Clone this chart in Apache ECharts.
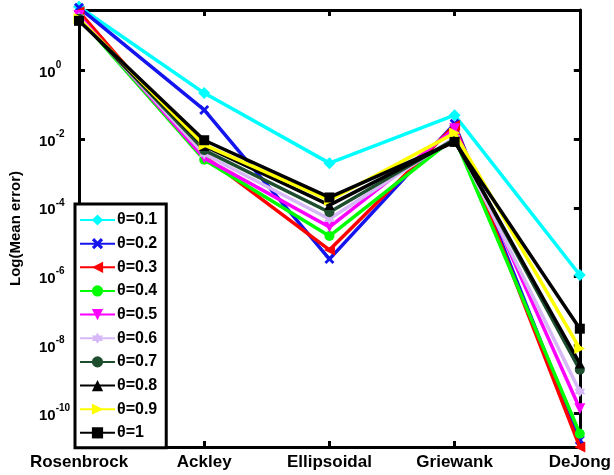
<!DOCTYPE html>
<html>
<head>
<meta charset="utf-8">
<script src="https://cdn.jsdelivr.net/npm/echarts@6/dist/echarts.min.js"></script>
<style>
html,body{margin:0;padding:0;background:#fff;}
#c{width:614px;height:475px;}
</style>
</head>
<body>
<div id="c"></div>
<script>
// ---- data ----
var categories = ['Rosenbrock', 'Ackley', 'Ellipsoidal', 'Griewank', 'DeJong'];
var seriesNames = ['θ=0.1', 'θ=0.2', 'θ=0.3', 'θ=0.4', 'θ=0.5', 'θ=0.6', 'θ=0.7', 'θ=0.8', 'θ=0.9', 'θ=1'];
var theta01 = [72, 0.22, 2.0e-3, 0.050, 1.1e-6];
var theta02 = [68, 0.071, 3.2e-6, 0.028, 1.7e-11];
var theta03 = [52, 3.2e-3, 5.9e-6, 0.025, 1.07e-11];
var theta04 = [35, 2.5e-3, 1.5e-5, 0.011, 2.6e-11];
var theta05 = [40, 2.8e-3, 2.75e-5, 0.020, 1.4e-10];
var theta06 = [35, 3.7e-3, 4.7e-5, 0.011, 4.4e-10];
var theta07 = [32, 4.8e-3, 7.4e-5, 0.010, 1.9e-9];
var theta08 = [30, 6.3e-3, 1.2e-4, 0.0089, 2.9e-9];
var theta09 = [33, 6.8e-3, 1.66e-4, 0.015, 7.9e-9];
var theta10 = [28, 9.3e-3, 2.0e-4, 0.0083, 3.0e-8];
var yTickValues = [1e-10, 1e-8, 1e-6, 1e-4, 1e-2, 1];
var yTickExponents = ['-10', '-8', '-6', '-4', '-2', '0'];

var seriesData = [theta01, theta02, theta03, theta04, theta05, theta06, theta07, theta08, theta09, theta10];
var colors = ['#00FFFF', '#1414EE', '#FF0000', '#00FF00', '#FF00FF', '#D6B8F6', '#1F4E2E', '#000000', '#FFFF00', '#000000'];

// symbol shapes
function hexagramPath() {
  var pts = [];
  for (var i = 0; i < 12; i++) {
    var a = Math.PI / 2 + i * Math.PI / 6;
    var r = (i % 2 === 0) ? 10 : 5.8;
    pts.push((10 + r * Math.cos(a)).toFixed(2) + ',' + (10 - r * Math.sin(a)).toFixed(2));
  }
  return 'path://M' + pts.join(' L') + ' Z';
}
var xPath = 'path://M2,0 L5,3 L8,0 L10,2 L7,5 L10,8 L8,10 L5,7 L2,10 L0,8 L3,5 L0,2 Z';
var symbols = ['diamond', xPath, 'triangle', 'circle', 'triangle', hexagramPath(), 'circle', 'triangle', 'triangle', 'rect'];
var rotates = [0, 0, 90, 0, 180, 0, 0, 0, -90, 0];
var sizes = [12, 10, 11, 10, 11, 11, 10, 10, 11, 10];

var series = seriesData.map(function (d, i) {
  return {
    name: seriesNames[i],
    type: 'line',
    data: d,
    xAxisIndex: 0,
    yAxisIndex: 0,
    symbol: symbols[i],
    symbolRotate: rotates[i],
    symbolSize: sizes[i],
    showAllSymbol: true,
    clip: false,
    color: colors[i],
    lineStyle: { width: 3.5, color: colors[i] },
    itemStyle: { color: colors[i] },
    z: 2 + i,
    animation: false
  };
});

var chart = echarts.init(document.getElementById('c'), null, { renderer: 'canvas' });
var fontFam = '"Liberation Sans", Arial, sans-serif';
var tickLookup = {};
yTickValues.forEach(function (v, i) { tickLookup[Math.round(Math.log10(v))] = yTickExponents[i]; });

chart.setOption({
  backgroundColor: '#fff',
  animation: false,
  grid: { left: 75, right: 32, top: 10, bottom: 28, containLabel: false },
  legend: {
    orient: 'vertical',
    left: 75,
    top: 204,
    backgroundColor: '#fff',
    borderColor: '#000',
    borderWidth: 3,
    borderRadius: 0,
    padding: [8, 9, 7, 4],
    itemWidth: 35,
    itemHeight: 14,
    itemGap: 7.65,
    textStyle: { fontFamily: fontFam, fontWeight: 'bold', fontSize: 16, color: '#000', padding: [0, 0, 0, -3] },
    data: seriesNames
  },
  xAxis: [{
    type: 'category',
    data: categories,
    boundaryGap: false,
    axisLine: { show: true, lineStyle: { color: '#000', width: 3 } },
    axisTick: { show: true, inside: true, length: 6, alignWithLabel: true, lineStyle: { color: '#000', width: 3 } },
    axisLabel: { interval: 0, color: '#000', fontFamily: fontFam, fontWeight: 'bold', fontSize: 17, margin: 7, showMinLabel: true, showMaxLabel: true, hideOverlap: false },
    splitLine: { show: false }
  }, {
    type: 'category',
    data: categories,
    position: 'top',
    boundaryGap: false,
    axisLine: { show: true, lineStyle: { color: '#000', width: 3 } },
    axisTick: { show: true, inside: true, length: 6, interval: 0, lineStyle: { color: '#000', width: 3 } },
    axisLabel: { show: false },
    splitLine: { show: false }
  }],
  yAxis: [{
    type: 'log',
    logBase: 10,
    min: 1.07e-11,
    max: 58,
    name: 'Log(Mean error)',
    nameLocation: 'middle',
    nameRotate: 90,
    nameGap: 56,
    nameTextStyle: { color: '#000', fontFamily: fontFam, fontWeight: 'bold', fontSize: 15 },
    axisLine: { show: true, lineStyle: { color: '#000', width: 3 } },
    axisTick: { show: true, inside: true, length: 6, customValues: yTickValues, lineStyle: { color: '#000', width: 3 } },
    axisLabel: {
      customValues: yTickValues,
      margin: 40,
      align: 'left',
      formatter: function (v) {
        var e = Math.round(Math.log10(v));
        return '{b|10}{s|' + (tickLookup[e] !== undefined ? tickLookup[e] : e) + '}';
      },
      rich: {
        b: { fontFamily: fontFam, fontWeight: 'bold', fontSize: 15, color: '#000', lineHeight: 20, verticalAlign: 'bottom' },
        s: { fontFamily: fontFam, fontWeight: 'bold', fontSize: 10, color: '#000', lineHeight: 12, verticalAlign: 'top' }
      }
    },
    splitLine: { show: false }
  }, {
    type: 'log',
    logBase: 10,
    min: 1.07e-11,
    max: 58,
    position: 'right',
    axisLine: { show: true, lineStyle: { color: '#000', width: 3 } },
    axisTick: { show: true, inside: true, length: 6, customValues: yTickValues, lineStyle: { color: '#000', width: 3 } },
    axisLabel: { show: false },
    splitLine: { show: false }
  }],
  series: series
});
</script>
</body>
</html>
